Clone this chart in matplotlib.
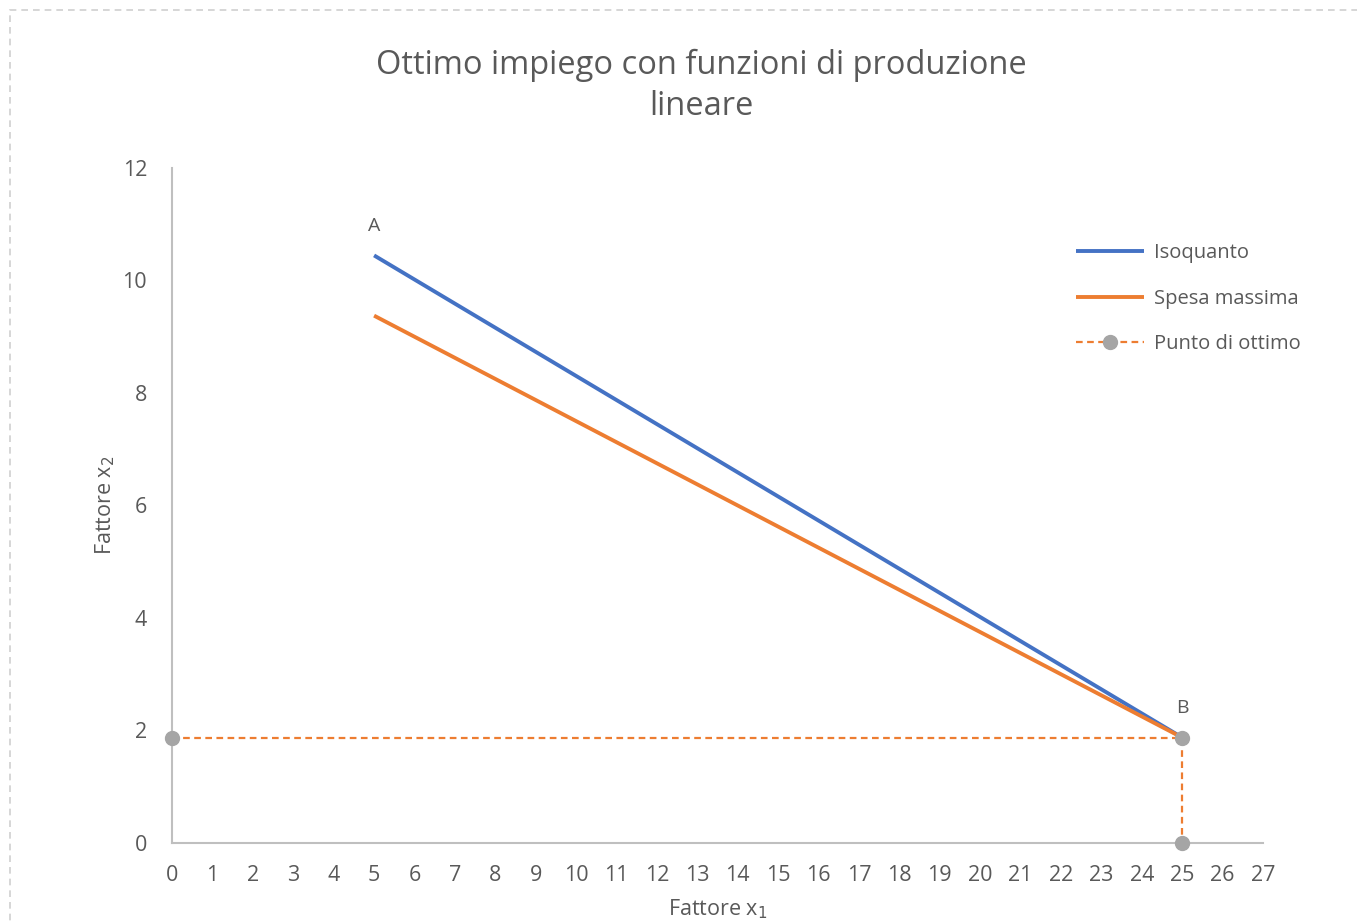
import numpy as np
import matplotlib.pyplot as plt
from matplotlib.patches import Rectangle

# data
iso_x = [5, 25]
iso_y = [10.446, 1.875]
spesa_x = [5, 25]
spesa_y = [9.375, 1.875]
ott_x = [0, 25, 25]
ott_y = [1.875, 1.875, 0]
point_labels = ['A', 'B']
label_x = [5, 25]
label_y = [10.446, 1.875]

plt.rcParams['font.family'] = ['Open Sans', 'DejaVu Sans']
txt = '#595959'

fig = plt.figure(figsize=(13.57, 9.22), dpi=100)
ax = fig.add_axes([0.1268, 0.0857, 0.8039, 0.7321])

# dashed frame around the chart area
fig.patches.append(Rectangle((10 / 1357, -0.05), 1.2, 1 - 10 / 922 + 0.05,
                             transform=fig.transFigure, fill=False,
                             ec='#d0d0d0', lw=1.2, ls=(0, (4, 3))))

ax.plot(iso_x, iso_y, color='#4472C4', lw=2.8, label='Isoquanto', solid_capstyle='butt')
ax.plot(spesa_x, spesa_y, color='#ED7D31', lw=2.8, label='Spesa massima', solid_capstyle='butt')
ax.plot(ott_x, ott_y, color='#ED7D31', lw=1.6, ls=(0, (3, 2)), marker='o',
        ms=10, mfc='#A5A5A5', mec='#A5A5A5', label='Punto di ottimo', clip_on=False, zorder=5)

for lab, x, y in zip(point_labels, label_x, label_y):
    ax.annotate(lab, (x, y), xytext=(0, 15), textcoords='offset points',
                ha='center', va='bottom', fontsize=14, color=txt)

ax.set_xlim(0, 27)
ax.set_ylim(0, 12)
ax.set_xticks(np.arange(0, 28, 1))
ax.set_yticks(np.arange(0, 13, 2))
ax.tick_params(length=0, labelsize=15.5, colors=txt)
ax.tick_params(axis='x', pad=16)
ax.tick_params(axis='y', pad=18)
for s in ['top', 'right']:
    ax.spines[s].set_visible(False)
for s in ['left', 'bottom']:
    ax.spines[s].set_color('#BFBFBF')
    ax.spines[s].set_linewidth(1.5)

ax.set_xlabel('Fattore x$_1$', fontsize=15.5, color=txt, labelpad=8)
ax.set_ylabel('Fattore x$_2$', fontsize=15.5, color=txt, labelpad=4)

fig.suptitle('Ottimo impiego con funzioni di produzione\nlineare', x=0.517, y=0.947,
             fontsize=23.5, color=txt, linespacing=1.32)

leg = ax.legend(loc='upper left', bbox_to_anchor=(0.812, 0.915), frameon=False,
                fontsize=14.5, labelcolor=txt, handlelength=3.4, labelspacing=1.25,
                handletextpad=0.45)

fig.savefig('out.png', dpi=100)
